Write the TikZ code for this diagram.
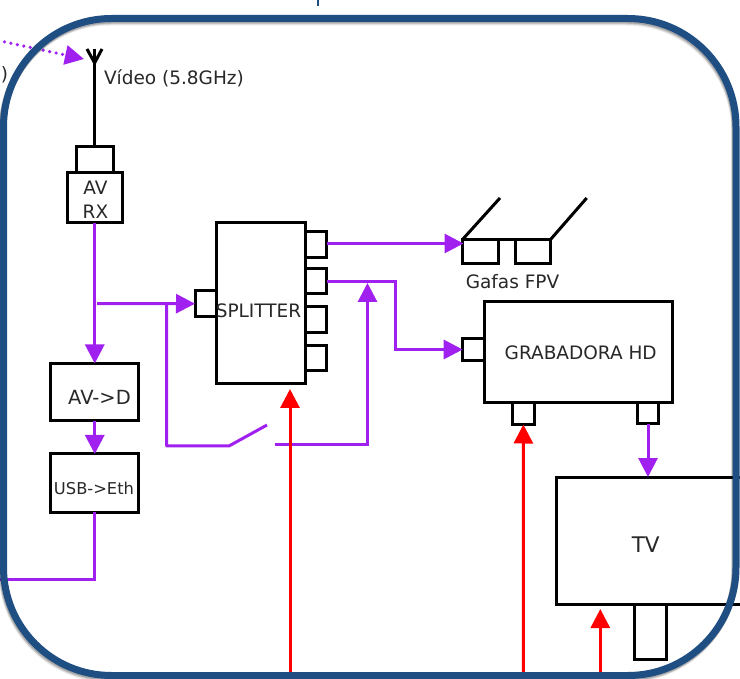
\documentclass[tikz,border=0pt]{standalone}
\usepackage{fontspec}
\setmainfont{DejaVu Sans}
\usetikzlibrary{arrows.meta,calc}
\definecolor{framecol}{RGB}{31,78,130}
\definecolor{violetline}{RGB}{160,32,240}
\definecolor{redline}{RGB}{255,0,0}
\definecolor{txtcol}{RGB}{40,40,40}
\tikzset{
  blackbox/.style={draw=black,line width=3pt,inner sep=0pt,outer sep=0pt,anchor=center},
  lbl/.style={text=txtcol,inner sep=0pt,outer sep=0pt,font=\fontsize{18.5}{20}\selectfont},
  smalllbl/.style={lbl,font=\fontsize{16.3}{18}\selectfont},
  midlbl/.style={lbl,font=\fontsize{19.5}{22}\selectfont},
  biglbl/.style={lbl,font=\fontsize{21.5}{24}\selectfont},
  blk/.style={draw=black,line width=3pt},
  tri/.style={-{Triangle[length=19pt,width=19pt]}},
  vio/.style={draw=violetline,line width=3pt},
  rd/.style={draw=redline,line width=3pt},
  frame/.style={rounded corners=108pt,line width=7pt},
}
\newcommand{\bx}[5]{\node[blackbox,minimum width={(#4)-(#2)},minimum height={(#5)-(#3)}] (#1) at ({((#2)+(#4))/2},{((#3)+(#5))/2}) {};}
\begin{document}
\begin{tikzpicture}[x=1pt,y=-1pt]
\useasboundingbox (0,0) rectangle (740,679);
\fill[white] (0,0) rectangle (740,679);

% named free ends
\coordinate (dotstart) at (-2,40.5);
\coordinate (dottip) at (84,59);
\coordinate (mastbase) at (94.6,147);
\coordinate (masttop) at (94.6,49);
\coordinate (armjoin) at (94.6,63);
\coordinate (armL) at (87,49);
\coordinate (armR) at (102,49);
\coordinate (usbout) at (0,579);
\coordinate (branchstart) at (97,303.5);
\coordinate (branch) at (166.5,303.5);
\coordinate (switchA) at (229,446);
\coordinate (switchB) at (267,425);
\coordinate (switchC) at (275,445);
\coordinate (joinlow) at (367.5,445);
\coordinate (jointip) at (367.5,283);
\coordinate (glassin) at (463.5,243.5);
\coordinate (armG1) at (500,198);
\coordinate (armG2) at (586.7,198);
\coordinate (redA) at (290,679);
\coordinate (redAtip) at (290,389);
\coordinate (redB) at (523.3,679);
\coordinate (redC) at (600.3,679);
\coordinate (redCtip) at (600.3,609);
\coordinate (p2bendA) at (395.3,281.2);
\coordinate (p2bendB) at (395.3,349.5);

% boxes
\bx{rxport}{76}{147}{113}{173}
\bx{avrx}{67.5}{172.5}{122}{223}
\bx{avd}{50}{363.5}{138.5}{421}
\bx{usb}{50}{454}{138.5}{512}
\bx{split}{216.7}{222.3}{305}{383.3}
\bx{sin}{195}{290.7}{216.7}{316.7}
\bx{p1}{305}{231.7}{326.7}{257.3}
\bx{p2}{305}{268.7}{326.7}{293.7}
\bx{p3}{305}{306.7}{326.7}{332.3}
\bx{p4}{305}{345.3}{326.7}{370.7}
\bx{lens1}{462.7}{239.3}{498}{263.3}
\bx{lens2}{515.3}{239.3}{550.7}{263.3}
\bx{rec}{484}{301.7}{672.7}{402.3}
\bx{recin}{462.7}{338.3}{484}{360.7}
\bx{recp1}{512.7}{402.3}{534}{424.5}
\bx{recp2}{637.3}{402.3}{658.7}{424}
\bx{tv}{556.3}{477}{760}{604}
\bx{stand}{634.3}{604}{666.7}{659}

% black strokes
\draw[blk] (mastbase) -- (masttop);
\draw[blk] (armL) -- (armjoin) -- (armR);
\draw[blk] (lens1.north east) -- (lens2.north west);
\draw[blk] (lens1.north west) -- (armG1);
\draw[blk] (lens2.north east) -- (armG2);

% labels
\node[lbl,anchor=west] (lvideo) at (104,78) {Vídeo (5.8GHz)};
\node[lbl] (lav) at (95.5,188) {AV};
\node[lbl] (lrx) at (95.5,212) {RX};
\node[midlbl] (lavd) at (99.5,397) {AV->D};
\node[smalllbl] (lusb) at (94,488) {USB->Eth};
\node[lbl] (lsplit) at (258.5,310.5) {SPLITTER};
\node[lbl] (lgafas) at (512.5,282) {Gafas FPV};
\node[lbl] (lrec) at (580.7,352.7) {GRABADORA HD};
\node[biglbl] (ltv) at (645.7,545) {TV};
\node[lbl,anchor=east] (lcut) at (8,75) {z)};

% violet connectors
\draw[vio,tri,line width=3.6pt,line cap=round,dash pattern=on 0pt off 6.6pt] (dotstart) -- (dottip);
\draw[vio,tri] (avrx.south) -- (avrx.south |- avd.north);
\draw[vio,tri] (avrx.south |- avd.south) -- (avrx.south |- usb.north);
\draw[vio] (avrx.south |- usb.south) |- (usbout);
\draw[vio,tri] (branchstart) -- (sin.west);
\draw[vio,line join=round] (branch) |- (switchA) -- (switchB);
\draw[vio,tri] (switchC) -- (joinlow) -- (jointip);
\draw[vio,tri] (p1.east |- glassin) -- (glassin);
\draw[vio,tri] (p2.east |- p2bendA) -- (p2bendA) -- (p2bendB) -- (recin.west |- p2bendB);
\draw[vio,tri] (recp2.south) -- (recp2.south |- tv.north);

% red connectors
\draw[rd,tri] (redA) -- (redAtip);
\draw[rd,tri] (redB) -- (recp1.south);
\draw[rd,tri] (redC) -- (redCtip);

% frame with soft shadow
\foreach \o/\s in {3.5/.08,2.5/.12,1.5/.18}{
  \draw[frame,black,opacity=\s] ($(3.5,18.5)+(-.4*\o,\o)$) rectangle ($(736,675.5)+(-.4*\o,\o)$);
}
\draw[frame,framecol] (3.5,18.5) rectangle (736,675.5);
\draw[framecol,line width=2.8pt] (318,-1) -- (318,6);
\end{tikzpicture}
\end{document}
